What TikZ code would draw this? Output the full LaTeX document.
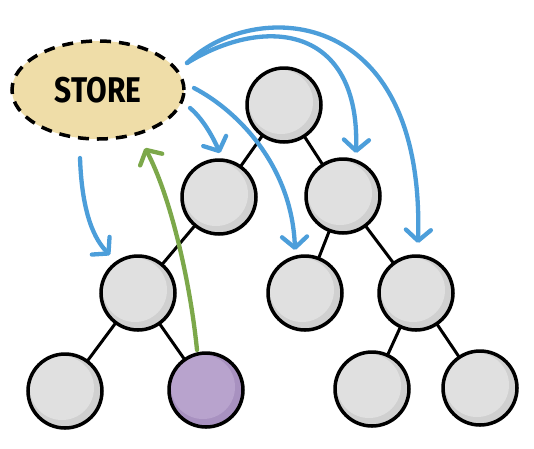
\documentclass[tikz,border=0pt]{standalone}
\usepackage{fontspec}
\newfontfamily\storefont{Fira Sans}
\usetikzlibrary{shapes.geometric,arrows.meta}
\definecolor{tan}{RGB}{239,221,168}
\definecolor{nodebase}{RGB}{208,208,208}
\definecolor{nodelight}{RGB}{224,224,224}
\definecolor{purpbase}{RGB}{168,145,192}
\definecolor{purplight}{RGB}{184,163,205}
\definecolor{arrblue}{RGB}{76,158,218}
\definecolor{arrgreen}{RGB}{124,168,74}
\tikzset{
  tnode/.style={circle, draw=black, line width=3.5pt, minimum size=74pt, inner sep=0pt, fill=nodebase,
    path picture={\fill[nodelight] ([xshift=-3pt,yshift=3pt]path picture bounding box.center) circle (32pt);}},
  pnode/.style={circle, draw=black, line width=3.5pt, minimum size=74pt, inner sep=0pt, fill=purpbase,
    path picture={\fill[purplight] ([xshift=-3pt,yshift=3pt]path picture bounding box.center) circle (32pt);}},
  tedge/.style={line width=3pt, black},
  bluearr/.style={arrblue, line width=4.3pt, line cap=round, -{Straight Barb[length=11pt,width=25pt,line cap=round,line join=round]}},
  greenarr/.style={arrgreen, line width=4.3pt, line cap=round, -{Straight Barb[length=11pt,width=25pt,line cap=round,line join=round]}},
  storebox/.style={ellipse, draw=black, fill=tan, line width=3.5pt, dash pattern=on 11pt off 8pt, minimum width=172pt, minimum height=98pt, inner sep=0pt}
}
\begin{document}
\begin{tikzpicture}[x=1pt,y=-1pt]
\useasboundingbox (0,0) rectangle (534,448);
\fill[white] (0,0) rectangle (534,448);
% tree edges first
\coordinate (rc) at (284,105);
\coordinate (ac) at (219,197);
\coordinate (bc) at (343,196);
\coordinate (cc) at (138,293);
\coordinate (dc) at (305,293);
\coordinate (ec) at (416,293);
\coordinate (fc) at (65,391);
\coordinate (pc) at (206,390);
\coordinate (gc) at (372,389);
\coordinate (hc) at (480,388);
\draw[tedge] (rc) -- (ac);
\draw[tedge] (rc) -- (bc);
\draw[tedge] (ac) -- (cc);
\draw[tedge] (cc) -- (fc);
\draw[tedge] (cc) -- (pc);
\draw[tedge] (bc) -- (dc);
\draw[tedge] (bc) -- (ec);
\draw[tedge] (ec) -- (gc);
\draw[tedge] (ec) -- (hc);
% nodes
\node[tnode] (r) at (rc) {};
\node[tnode] (a) at (ac) {};
\node[tnode] (b) at (bc) {};
\node[tnode] (c) at (cc) {};
\node[tnode] (d) at (dc) {};
\node[tnode] (e) at (ec) {};
\node[tnode] (f) at (fc) {};
\node[pnode] (p) at (pc) {};
\node[tnode] (g) at (gc) {};
\node[tnode] (h) at (hc) {};
% store
\node[storebox] (store) at (98,90) {\scalebox{0.88}[1.05]{\storefont\bfseries\fontsize{34}{34}\selectfont STORE}};
% arrow tips
\coordinate (t1) at (110,255);
\coordinate (t2) at (220,153);
\coordinate (t3) at (295,250);
\coordinate (t4) at (356,153);
\coordinate (t5) at (418,243);
\coordinate (tg) at (145,148);
\coordinate (s1) at (80,158);
\coordinate (s2) at (190,108);
\coordinate (s3) at (194,88);
\coordinate (s4) at (187,63);
\coordinate (sg) at (197,350);
\draw[bluearr] (s1) .. controls (82,215) and (95,240) .. (t1);
\draw[bluearr] (s2) .. controls (202,118) and (212,135) .. (t2);
\draw[bluearr] (s3) .. controls (240,112) and (292,168) .. (t3);
\draw[bluearr] (s4) .. controls (265,15) and (360,25) .. (t4);
\draw[bluearr] (s4) .. controls (250,0) and (425,0) .. (t5);
\draw[greenarr] (sg) .. controls (190,280) and (170,195) .. (tg);
\end{tikzpicture}
\end{document}
